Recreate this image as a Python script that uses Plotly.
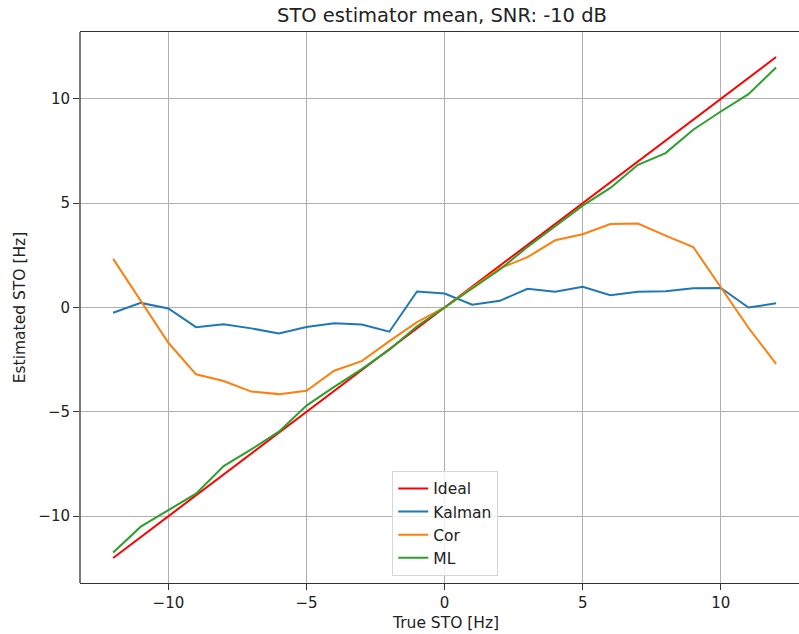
import plotly.graph_objects as go

sto_true = list(range(-12, 13))

ideal = list(sto_true)
kalman = [-0.25, 0.22, -0.05, -0.94, -0.8, -1.0, -1.24, -0.93, -0.75, -0.81, -1.16, 0.77,
          0.67, 0.13, 0.32, 0.9, 0.75, 0.99, 0.59, 0.75, 0.78, 0.92, 0.94, 0.0, 0.2]
cor = [2.33, 0.32, -1.69, -3.2, -3.52, -4.03, -4.15, -3.99, -3.03, -2.57, -1.61, -0.7,
       0.0, 0.95, 1.88, 2.41, 3.22, 3.51, 4.0, 4.02, 3.44, 2.9, 0.94, -0.97, -2.7]
ml = [-11.74, -10.5, -9.71, -8.92, -7.6, -6.8, -5.95, -4.7, -3.8, -2.95, -2.02, -0.9,
      0.0, 0.9, 1.82, 2.9, 3.9, 4.88, 5.73, 6.84, 7.4, 8.52, 9.39, 10.22, 11.5]

tick_vals = [-10, -5, 0, 5, 10]
tick_text = ["\u221210", "\u22125", "0", "5", "10"]

series = [
    ("Ideal", ideal, "#ff0000"),
    ("Kalman", kalman, "#1f77b4"),
    ("Cor", cor, "#ff7f0e"),
    ("ML", ml, "#2ca02c"),
]

FONT = "DejaVu Sans"
SPINE = "#333333"

fig = go.Figure()
for name, vals, color in series:
    fig.add_trace(go.Scatter(x=sto_true, y=vals, mode="lines", name=name,
                             line=dict(color=color, width=2)))

axis_common = dict(
    showgrid=True, gridcolor="#b0b0b0", gridwidth=1,
    ticks="outside", ticklen=6, tickcolor=SPINE,
    zeroline=False, tickvals=tick_vals, ticktext=tick_text,
    tickfont=dict(family=FONT, size=15, color="#222222"),
)

fig.update_layout(
    width=799, height=634,
    margin=dict(l=80, r=0, t=32, b=51),
    paper_bgcolor="#ffffff", plot_bgcolor="#ffffff",
    font=dict(family=FONT, size=15, color="#222222"),
    title=dict(text="STO estimator mean, SNR: -10 dB", x=442 / 799,
               xref="container", xanchor="center", y=1 - 15 / 634, yanchor="middle",
               font=dict(family=FONT, size=19.5, color="#222222")),
    xaxis=dict(range=[-13.2, 12.83], showline=True, linecolor=SPINE, linewidth=1.3,
               mirror=True, **axis_common),
    yaxis=dict(range=[-13.2, 13.2], showline=False,
               title=dict(text="Estimated STO [Hz]", standoff=8,
                          font=dict(family=FONT, size=15.5)),
               **axis_common),
    legend=dict(x=0.508, xanchor="center", y=0.013, yanchor="bottom",
                bgcolor="rgba(255,255,255,0.8)", bordercolor="#d6d6d6", borderwidth=1,
                font=dict(family=FONT, size=15.5), tracegroupgap=0),
    annotations=[dict(text="True STO [Hz]", xref="paper", yref="paper",
                      x=0.508, y=-(623 - 583) / 551, xanchor="center", yanchor="middle",
                      showarrow=False, font=dict(family=FONT, size=15.5, color="#222222"))],
    # left spine only; the frame continues past the right edge of the page
    shapes=[dict(type="line", xref="paper", yref="paper", x0=0, x1=0, y0=0, y1=1,
                 line=dict(color=SPINE, width=1.3), layer="above")],
    showlegend=True,
)

fig.write_html("out.html")
